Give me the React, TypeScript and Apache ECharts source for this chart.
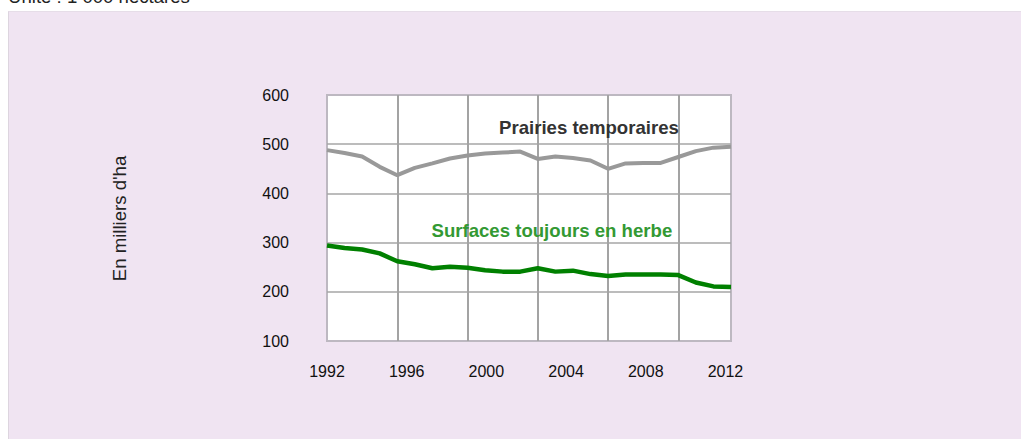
import React, { useEffect, useRef } from "react";
import * as echarts from "echarts";

// 24 equally spaced observation points along the x axis
const periods = [
  "1989", "1990", "1991", "1992", "1993", "1994", "1995", "1996",
  "1997", "1998", "1999", "2000", "2001", "2002", "2003", "2004",
  "2005", "2006", "2007", "2008", "2009", "2010", "2011", "2012",
];

// Prairies temporaires (milliers d'ha)
const prairiesTemporaires = [
  488, 482, 475, 454, 437, 452, 461, 471, 477, 481, 483, 485,
  470, 475, 472, 467, 450, 461, 462, 462, 474, 486, 493, 495,
];

// Surfaces toujours en herbe (milliers d'ha)
const surfacesToujoursEnHerbe = [
  294, 289, 286, 278, 262, 256, 248, 251, 249, 244, 241, 241,
  248, 241, 243, 236, 232, 235, 235, 235, 234, 219, 211, 210,
];

// Tick labels
const xTickYears = [1992, 1996, 2000, 2004, 2008, 2012];
const yTicks = { min: 100, max: 600, interval: 100 };

const FONT = "'Liberation Sans', Arial, Helvetica, sans-serif";

export default function App() {
  const ref = useRef<HTMLDivElement>(null);

  useEffect(() => {
    if (!ref.current) return;
    const chart = echarts.init(ref.current, null, { renderer: "svg" });
    chart.setOption({
      animation: false,
      textStyle: { fontFamily: FONT },
      grid: {
        left: 327,
        top: 95,
        width: 404,
        height: 246,
        show: true,
        backgroundColor: "#ffffff",
        borderColor: "#bdb8c1",
        borderWidth: 2,
        containLabel: false,
      },
      xAxis: [
        {
          type: "category",
          data: periods,
          boundaryGap: false,
          axisLine: { show: false },
          axisTick: { show: false },
          axisLabel: { show: false },
          splitLine: {
            show: true,
            interval: (i: number) => i !== 0 && i % 4 === 0,
            lineStyle: { color: "#a3a3a3", width: 2 },
          },
        },
        {
          type: "value",
          position: "bottom",
          min: 1992,
          max: 2012.28,
          axisLine: { show: false },
          axisTick: { show: false },
          splitLine: { show: false },
          axisLabel: {
            customValues: xTickYears,
            formatter: (v: number) => String(Math.round(v)),
            fontSize: 16,
            color: "#111111",
            fontFamily: FONT,
            margin: 22,
          },
        },
      ],
      yAxis: {
        type: "value",
        min: yTicks.min,
        max: yTicks.max,
        interval: yTicks.interval,
        axisLine: { show: false },
        axisTick: { show: false },
        axisLabel: {
          fontSize: 16,
          color: "#111111",
          fontFamily: FONT,
          margin: 38,
        },
        splitLine: {
          show: true,
          showMinLine: false,
          showMaxLine: false,
          lineStyle: { color: "#a6a6a6", width: 1.5 },
        },
      },
      series: [
        {
          name: "Prairies temporaires",
          type: "line",
          xAxisIndex: 0,
          data: prairiesTemporaires,
          symbol: "none",
          lineStyle: { color: "#999999", width: 4 },
        },
        {
          name: "Surfaces toujours en herbe",
          type: "line",
          xAxisIndex: 0,
          data: surfacesToujoursEnHerbe,
          symbol: "none",
          lineStyle: { color: "#008000", width: 4.5 },
        },
      ],
      graphic: [
        {
          type: "text",
          x: 8,
          y: -3.2,
          style: {
            text: "Unité : 1 000 hectares",
            fontSize: 18.6,
            fontFamily: FONT,
            fill: "#222222",
            align: "left",
            verticalAlign: "middle",
          },
        },
        {
          type: "text",
          x: 119,
          y: 218.5,
          rotation: Math.PI / 2,
          style: {
            text: "En milliers d'ha",
            fontSize: 18.6,
            fontFamily: FONT,
            fill: "#222222",
            align: "center",
            verticalAlign: "middle",
          },
        },
        {
          type: "text",
          x: 499,
          y: 127,
          z: 10,
          style: {
            text: "Prairies temporaires",
            fontSize: 18.6,
            fontWeight: "bold",
            fontFamily: FONT,
            fill: "#333333",
            align: "left",
            verticalAlign: "middle",
          },
        },
        {
          type: "text",
          x: 431.5,
          y: 230.2,
          z: 10,
          style: {
            text: "Surfaces toujours en herbe",
            fontSize: 18.6,
            fontWeight: "bold",
            fontFamily: FONT,
            fill: "#339933",
            align: "left",
            verticalAlign: "middle",
          },
        },
      ],
    });
    return () => chart.dispose();
  }, []);

  return (
    <div
      style={{
        position: "absolute",
        left: 0,
        top: 0,
        width: 1021,
        height: 439,
        background: "#ffffff",
        overflow: "hidden",
      }}
    >
      <div
        style={{
          position: "absolute",
          left: 8,
          top: 11,
          width: 1021,
          height: 439,
          background: "#f0e4f2",
          borderLeft: "1px solid #ddd5df",
          borderTop: "1px solid #e6dde8",
        }}
      />
      <div
        ref={ref}
        style={{ position: "absolute", left: 0, top: 0, width: 1021, height: 439 }}
      />
    </div>
  );
}
